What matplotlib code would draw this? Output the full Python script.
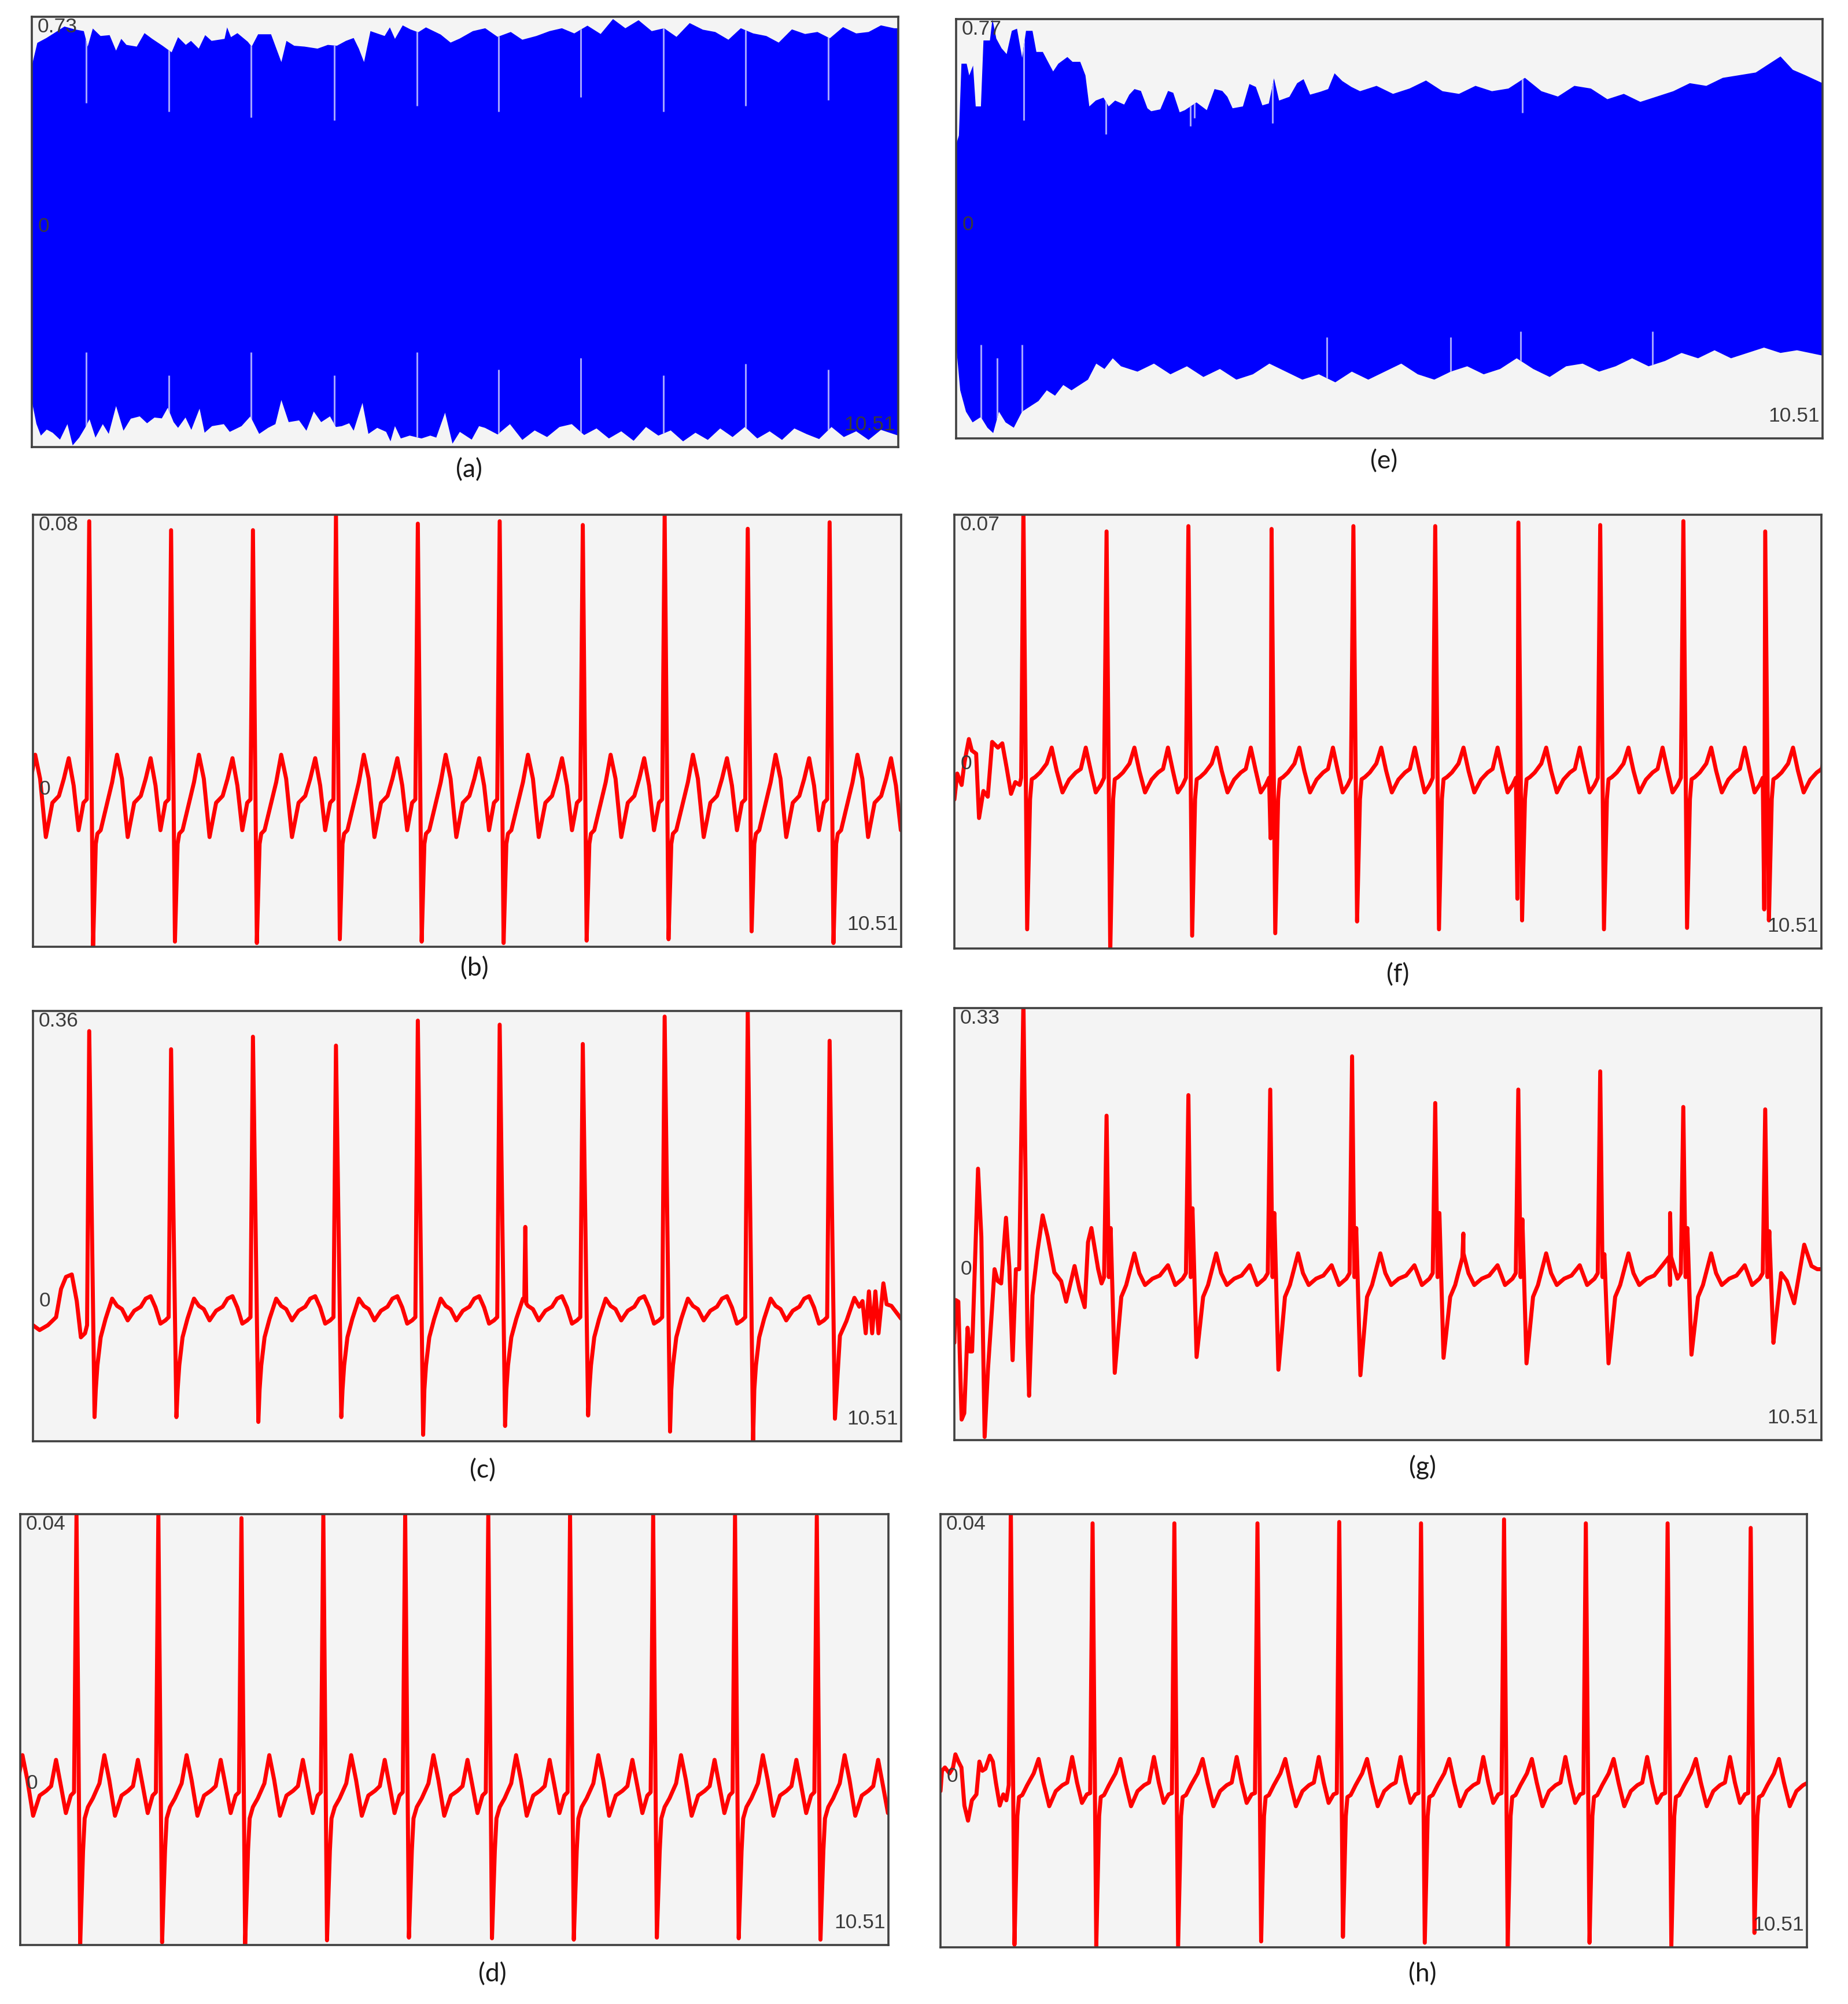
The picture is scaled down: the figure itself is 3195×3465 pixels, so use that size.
import numpy as np
import matplotlib
matplotlib.use("Agg")
import matplotlib.pyplot as plt
from matplotlib.transforms import blended_transform_factory

plt.rcParams['font.family'] = ['Liberation Sans', 'DejaVu Sans']

T_END = 10.51
W, H = 3195, 3465

# ---------------- (a) raw mixture: envelope of the blue band (t, value) ----------------
A_UP = [(0.0, 0.558), (0.067, 0.639), (0.177, 0.656), (0.271, 0.673), (0.396, 0.696), (0.521, 0.686),
        (0.631, 0.680), (0.678, 0.626), (0.740, 0.689), (0.834, 0.663), (0.944, 0.666), (1.022, 0.612),
        (1.085, 0.653), (1.148, 0.632), (1.273, 0.626), (1.367, 0.673), (1.461, 0.653), (1.586, 0.629),
        (1.696, 0.606), (1.774, 0.659), (1.868, 0.632), (1.931, 0.646), (2.025, 0.619), (2.103, 0.666),
        (2.181, 0.646), (2.338, 0.653), (2.369, 0.693), (2.416, 0.659), (2.494, 0.673), (2.620, 0.643),
        (2.667, 0.626), (2.745, 0.669), (2.902, 0.669), (3.027, 0.572), (3.089, 0.646), (3.183, 0.629),
        (3.309, 0.626), (3.466, 0.619), (3.591, 0.632), (3.701, 0.629), (3.810, 0.646), (3.904, 0.656),
        (3.967, 0.619), (4.030, 0.572), (4.108, 0.680), (4.280, 0.663), (4.343, 0.693), (4.405, 0.653),
        (4.499, 0.700), (4.593, 0.686), (4.687, 0.676), (4.781, 0.693), (4.96, 0.668), (5.08, 0.640),
        (5.19, 0.654), (5.35, 0.680), (5.50, 0.690), (5.65, 0.660), (5.81, 0.677), (5.95, 0.650),
        (6.12, 0.663), (6.28, 0.680), (6.43, 0.690), (6.58, 0.672), (6.74, 0.699), (6.90, 0.670),
        (7.05, 0.722), (7.20, 0.690), (7.36, 0.718), (7.52, 0.680), (7.67, 0.690), (7.82, 0.660),
        (7.98, 0.708), (8.14, 0.685), (8.29, 0.677), (8.45, 0.650), (8.60, 0.690), (8.75, 0.672),
        (8.91, 0.663), (9.06, 0.640), (9.22, 0.686), (9.38, 0.670), (9.53, 0.677), (9.68, 0.655),
        (9.84, 0.694), (10.0, 0.672), (10.15, 0.677), (10.30, 0.700), (10.46, 0.690), (10.51, 0.690)]
A_LO = [(0.0, -0.609), (0.056, -0.689), (0.110, -0.730), (0.181, -0.709), (0.253, -0.720), (0.342, -0.744),
        (0.432, -0.690), (0.496, -0.764), (0.575, -0.737), (0.646, -0.703), (0.700, -0.673), (0.772, -0.737),
        (0.861, -0.690), (0.933, -0.724), (1.022, -0.627), (1.112, -0.713), (1.201, -0.671), (1.309, -0.663),
        (1.398, -0.687), (1.488, -0.667), (1.577, -0.670), (1.649, -0.633), (1.720, -0.683), (1.774, -0.703),
        (1.864, -0.667), (1.935, -0.710), (2.035, -0.636), (2.096, -0.720), (2.186, -0.697), (2.329, -0.690),
        (2.401, -0.717), (2.544, -0.697), (2.651, -0.663), (2.758, -0.724), (2.866, -0.703), (2.955, -0.690),
        (3.027, -0.606), (3.116, -0.683), (3.242, -0.677), (3.331, -0.713), (3.420, -0.646), (3.510, -0.683),
        (3.617, -0.663), (3.689, -0.700), (3.760, -0.697), (3.850, -0.687), (3.904, -0.713), (4.011, -0.616),
        (4.083, -0.724), (4.190, -0.703), (4.298, -0.717), (4.351, -0.750), (4.405, -0.697), (4.476, -0.740),
        (4.584, -0.730), (4.727, -0.740), (4.834, -0.730), (4.906, -0.737), (5.013, -0.650), (5.103, -0.758),
        (5.192, -0.717), (5.336, -0.744), (5.425, -0.697), (5.497, -0.703), (5.65, -0.726), (5.80, -0.690),
        (5.95, -0.745), (6.10, -0.712), (6.25, -0.735), (6.40, -0.700), (6.55, -0.690), (6.70, -0.728),
        (6.85, -0.705), (7.00, -0.740), (7.15, -0.715), (7.30, -0.748), (7.45, -0.700), (7.60, -0.730),
        (7.75, -0.712), (7.90, -0.750), (8.05, -0.720), (8.20, -0.745), (8.35, -0.705), (8.50, -0.735),
        (8.65, -0.700), (8.80, -0.740), (8.95, -0.715), (9.10, -0.745), (9.25, -0.705), (9.40, -0.725),
        (9.55, -0.742), (9.70, -0.700), (9.85, -0.735), (10.0, -0.715), (10.15, -0.745), (10.30, -0.710),
        (10.51, -0.730)]
A_STREAK_T = [0.662, 1.665, 2.66, 3.67, 4.67, 5.66, 6.66, 7.66, 8.66, 9.66]
A_STREAK_TOP = [0.43, 0.40, 0.38, 0.37, 0.42, 0.40, 0.45, 0.40, 0.42, 0.44]
A_STREAK_BOT = [-0.44, -0.52, -0.44, -0.52, -0.44, -0.50, -0.46, -0.52, -0.48, -0.50]

# ---------------- (e) ----------------
E_UP = [(0.0, 0.30), (0.034, 0.334), (0.065, 0.603), (0.128, 0.603), (0.159, 0.559), (0.206, 0.596),
        (0.238, 0.443), (0.301, 0.443), (0.332, 0.690), (0.410, 0.690), (0.441, 0.770), (0.488, 0.697),
        (0.551, 0.661), (0.613, 0.639), (0.676, 0.726), (0.739, 0.734), (0.801, 0.625), (0.848, 0.726),
        (0.927, 0.726), (0.974, 0.647), (1.052, 0.647), (1.115, 0.610), (1.177, 0.574), (1.240, 0.603),
        (1.350, 0.628), (1.412, 0.610), (1.506, 0.610), (1.569, 0.559), (1.616, 0.443), (1.694, 0.465),
        (1.788, 0.476), (1.851, 0.443), (1.929, 0.465), (2.039, 0.450), (2.101, 0.487), (2.164, 0.508),
        (2.242, 0.501), (2.321, 0.436), (2.367, 0.425), (2.477, 0.432), (2.571, 0.501), (2.634, 0.494),
        (2.712, 0.421), (2.775, 0.429), (2.916, 0.458), (3.041, 0.429), (3.135, 0.508), (3.229, 0.501),
        (3.291, 0.479), (3.354, 0.436), (3.479, 0.443), (3.558, 0.527), (3.636, 0.516), (3.715, 0.447),
        (3.793, 0.454), (3.856, 0.548), (3.918, 0.465), (4.043, 0.479), (4.137, 0.530), (4.215, 0.545),
        (4.294, 0.487), (4.419, 0.498), (4.513, 0.508), (4.591, 0.567), (4.685, 0.538), (4.795, 0.516),
        (4.90, 0.50), (5.10, 0.52), (5.30, 0.49), (5.50, 0.51), (5.70, 0.54), (5.90, 0.50), (6.10, 0.49),
        (6.30, 0.52), (6.50, 0.50), (6.70, 0.51), (6.90, 0.55), (7.10, 0.50), (7.30, 0.48), (7.50, 0.52),
        (7.70, 0.51), (7.90, 0.47), (8.10, 0.49), (8.30, 0.46), (8.50, 0.48), (8.70, 0.50), (8.90, 0.53),
        (9.10, 0.52), (9.30, 0.55), (9.50, 0.56), (9.70, 0.57), (9.85, 0.60), (10.0, 0.63), (10.15, 0.58),
        (10.30, 0.56), (10.51, 0.53)]
E_LO = [(0.0, -0.45), (0.05, -0.62), (0.12, -0.70), (0.20, -0.74), (0.30, -0.72), (0.38, -0.76), (0.45, -0.78),
        (0.52, -0.70), (0.60, -0.74), (0.70, -0.76), (0.80, -0.70), (0.90, -0.68), (1.0, -0.66), (1.1, -0.62),
        (1.2, -0.64), (1.3, -0.60), (1.4, -0.62), (1.5, -0.60), (1.6, -0.58), (1.7, -0.52), (1.8, -0.54),
        (1.9, -0.50), (2.0, -0.53), (2.2, -0.55), (2.4, -0.52), (2.6, -0.56), (2.8, -0.53), (3.0, -0.57),
        (3.2, -0.54), (3.4, -0.58), (3.6, -0.56), (3.8, -0.52), (4.0, -0.55), (4.2, -0.58), (4.4, -0.56),
        (4.6, -0.59), (4.8, -0.55), (5.0, -0.58), (5.2, -0.55), (5.4, -0.52), (5.6, -0.56), (5.8, -0.58),
        (6.0, -0.55), (6.2, -0.53), (6.4, -0.56), (6.6, -0.54), (6.8, -0.50), (7.0, -0.54), (7.2, -0.57),
        (7.4, -0.53), (7.6, -0.52), (7.8, -0.55), (8.0, -0.53), (8.2, -0.50), (8.4, -0.53), (8.6, -0.51),
        (8.8, -0.48), (9.0, -0.50), (9.2, -0.47), (9.4, -0.50), (9.6, -0.48), (9.8, -0.46), (10.0, -0.48),
        (10.2, -0.47), (10.51, -0.49)]
E_STREAK_T = [0.819, 1.82, 2.84, 2.89, 3.84, 6.87]
E_STREAK_TOP = [0.39, 0.34, 0.37, 0.40, 0.38, 0.42]
E_STREAK_BT = [0.30, 0.50, 0.80, 4.50, 6.00, 6.85, 8.45]
E_STREAK_BOT = [-0.45, -0.50, -0.45, -0.42, -0.42, -0.40, -0.40]

# ---------------- red ECG panels: R times / R, S values + one beat shape per panel ----------------
ECG_PHASE = [0.08, 0.10, 0.14, 0.20, 0.28, 0.34, 0.40, 0.47, 0.55, 0.63, 0.69, 0.75, 0.81, 0.87, 0.93, 0.97]

B_R_T = [0.681, 1.672, 2.663, 3.668, 4.659, 5.650, 6.656, 7.647, 8.653, 9.644]
B_R_V = [0.0781, 0.0755, 0.0755, 0.080, 0.0774, 0.0781, 0.077, 0.080, 0.0759, 0.0778]
B_S_V = [-0.046, -0.0445, -0.0449, -0.0438, -0.0445, -0.0449, -0.0442, -0.0438, -0.0415, -0.0449]
B_WAVE = [-0.016, -0.013, -0.012, -0.006, 0.002, 0.010, 0.003, -0.014, -0.004, -0.002, 0.003, 0.009, 0.001,
          -0.012, -0.004, -0.003]

C_R_T = [0.681, 1.672, 2.663, 3.668, 4.659, 5.650, 6.656, 7.647, 8.653, 9.644]
C_R_V = [0.335, 0.3125, 0.328, 0.317, 0.348, 0.343, 0.319, 0.353, 0.36, 0.323]
C_S_V = [-0.144, -0.144, -0.150, -0.144, -0.166, -0.155, -0.142, -0.162, -0.174, -0.146]
C_WAVE = [-0.11, -0.08, -0.045, -0.022, 0.003, -0.006, -0.010, -0.024, -0.012, -0.007, 0.003, 0.006, -0.008,
          -0.028, -0.024, -0.020]
C_LEAD = [(0.0, -0.03), (0.08, -0.036), (0.18, -0.03), (0.28, -0.02), (0.34, 0.015), (0.40, 0.03), (0.47, 0.033),
          (0.53, 0.0), (0.58, -0.045), (0.63, -0.04), (0.655, -0.03)]
C_TAIL = [(9.769, -0.043), (9.847, -0.025), (9.944, 0.004), (10.003, -0.007), (10.042, 0.0), (10.081, -0.04),
          (10.12, 0.012), (10.159, -0.04), (10.198, 0.012), (10.236, -0.04), (10.295, 0.022), (10.334, -0.004),
          (10.392, -0.006), (10.51, -0.022)]
C_EXTRA = [(5.96, 0.092)]

D_R_T = [0.681, 1.672, 2.678, 3.669, 4.660, 5.666, 6.656, 7.662, 8.653, 9.643]
D_R_V = [0.040, 0.040, 0.0394, 0.040, 0.040, 0.040, 0.0398, 0.0398, 0.0398, 0.0397]
D_S_V = [-0.024, -0.0236, -0.024, -0.0233, -0.0229, -0.023, -0.0232, -0.0229, -0.023, -0.0232]
D_WAVE = [-0.010, -0.0052, -0.0035, -0.0022, 0.0, 0.0042, 0.0005, -0.0048, -0.0018, -0.0011, -0.0004, 0.0035,
          -0.0004, -0.0044, -0.0018, -0.0013]

F_R_T = [0.837, 1.845, 2.837, 3.845, 4.837, 5.829, 6.837, 7.829, 8.837, 9.829]
F_R_V = [0.072, 0.0653, 0.0668, 0.066, 0.0668, 0.0668, 0.0678, 0.0671, 0.0682, 0.0653]
F_S_V = [-0.0466, -0.053, -0.0484, -0.0477, -0.0444, -0.0466, -0.0441, -0.0466, -0.0462, -0.0441]
F_Q_V = [0, 0, 0, -0.021, 0, 0, -0.038, 0, 0, -0.041]
F_WAVE = [-0.010, -0.0044, -0.0038, -0.0025, 0.000, 0.0045, -0.002, -0.0081, -0.0045, -0.0025, -0.0015, 0.0045,
          -0.002, -0.0081, -0.0060, -0.004]
F_LEAD = [(0.0, -0.0101), (0.035, -0.0028), (0.088, -0.0060), (0.123, 0.0004), (0.176, 0.0069), (0.211, 0.0037),
          (0.264, 0.0028), (0.299, -0.0153), (0.352, -0.0077), (0.405, -0.0093), (0.458, 0.0061),
          (0.528, 0.0045), (0.581, 0.0057), (0.634, -0.0012), (0.687, -0.0085), (0.739, -0.0052),
          (0.792, -0.0060), (0.81, -0.004)]

# (g): first, irregular beat is part of the lead-in trace
G_PHASE = [0.18, 0.24, 0.34, 0.40, 0.47, 0.56, 0.65, 0.75, 0.84, 0.93, 0.97]
G_R_T = [1.845, 2.837, 3.829, 4.821, 5.829, 6.836, 7.829, 8.836, 9.829]
G_R_V = [0.194, 0.220, 0.227, 0.269, 0.210, 0.227, 0.250, 0.205, 0.202]
G_S_V = [-0.131, -0.111, -0.127, -0.134, -0.112, -0.119, -0.119, -0.108, -0.093]
G_NOTCH_V = [0.052, 0.077, 0.071, 0.052, 0.071, 0.063, 0.019, 0.052, 0.048]
G_WAVE = [-0.035, -0.02, 0.02, -0.005, -0.02, -0.012, -0.008, 0.005, -0.02, -0.012, -0.005]
G_LEAD = [(0.0, -0.093), (0.016, -0.039), (0.048, -0.041), (0.088, -0.19), (0.12, -0.182), (0.16, -0.074),
          (0.188, -0.104), (0.215, -0.104), (0.287, 0.127), (0.327, 0.041), (0.367, -0.212), (0.407, -0.127),
          (0.455, -0.052), (0.487, 0.0), (0.527, -0.015), (0.567, -0.018), (0.626, 0.065), (0.666, 0.003),
          (0.706, -0.115), (0.746, 0.0), (0.786, 0.0), (0.837, 0.34), (0.886, -0.086), (0.906, -0.16),
          (0.947, -0.033), (1.008, 0.023), (1.070, 0.068), (1.131, 0.041), (1.212, -0.004), (1.294, -0.015),
          (1.355, -0.041), (1.457, 0.004), (1.518, -0.026), (1.580, -0.048), (1.620, 0.034), (1.661, 0.052),
          (1.702, 0.026), (1.743, 0.0), (1.784, -0.018), (1.815, -0.01)]
G_TAIL = [(9.952, -0.07), (10.022, -0.005), (10.092, -0.015), (10.18, -0.043), (10.302, 0.031), (10.39, 0.004),
          (10.46, 0.0), (10.52, 0.0)]
G_EXTRA = [(6.17, 0.045), (8.676, 0.071)]

H_R_T = [0.853, 1.845, 2.837, 3.845, 4.837, 5.829, 6.836, 7.828, 8.820, 9.828]
H_R_V = [0.041, 0.0386, 0.0386, 0.0386, 0.0388, 0.0386, 0.0392, 0.0386, 0.0386, 0.0379]
H_S_V = [-0.0256, -0.0258, -0.0258, -0.0251, -0.0244, -0.0253, -0.0258, -0.0253, -0.0258, -0.0238]
H_WAVE = [-0.006, -0.0031, -0.0028, -0.0013, 0.0005, 0.0027, -0.0009, -0.0045, -0.0022, -0.0013, -0.0009,
          0.0030, -0.0009, -0.0040, -0.0027, -0.0025]
H_LEAD = [(0.0, -0.0022), (0.018, 0.0009), (0.054, 0.0014), (0.109, 0.0005), (0.152, 0.0014), (0.181, 0.0034),
          (0.218, 0.0023), (0.254, 0.0014), (0.290, -0.0044), (0.334, -0.0067), (0.381, -0.0036),
          (0.436, -0.0027), (0.472, 0.0023), (0.508, 0.0009), (0.545, 0.0012), (0.599, 0.0032),
          (0.635, 0.0023), (0.672, -0.0009), (0.719, -0.0044), (0.762, -0.0027), (0.799, -0.0036),
          (0.828, -0.0013)]

# panel boxes in pixels (x0, y0, x1, y1), y limits, label of the max
BOX = {'a': (55, 29, 1553, 773), 'e': (1653, 33, 3151, 758),
       'b': (57, 890, 1558, 1637), 'f': (1650, 890, 3149, 1640),
       'c': (57, 1748, 1558, 2492), 'g': (1650, 1743, 3149, 2490),
       'd': (35, 2618, 1536, 3363), 'h': (1626, 2618, 3124, 3367)}
YLIM = {'a': (-0.77, 0.73), 'e': (-0.80, 0.77), 'b': (-0.046, 0.08), 'f': (-0.052, 0.07),
        'c': (-0.174, 0.36), 'g': (-0.216, 0.33), 'd': (-0.024, 0.04), 'h': (-0.026, 0.04)}
TOP_LABEL = {'a': '0.73', 'e': '0.77', 'b': '0.08', 'f': '0.07', 'c': '0.36', 'g': '0.33', 'd': '0.04', 'h': '0.04'}
CAPTION_XY = {'a': (811, 813), 'e': (2393, 798), 'b': (820, 1675), 'f': (2417, 1686),
              'c': (835, 2543), 'g': (2459, 2537), 'd': (851, 3414), 'h': (2459, 3414)}


def xy(pairs):
    return np.array([p[0] for p in pairs]), np.array([p[1] for p in pairs])


def ecg_trace(r_t, r_v, s_v, s_ph, ph, wave, lead=None, tail=None, q_v=None, notch_v=None, extra=()):
    r_t = np.asarray(r_t, float)
    rr = np.diff(r_t)
    ts, vs = [], []
    if lead is None:
        r0 = r_t[0] - rr[0]
        ts += [r0 + p * rr[0] for p in ph]
        vs += list(wave)
    else:
        ts += [p[0] for p in lead]
        vs += [p[1] for p in lead]
    for i, r in enumerate(r_t):
        d = rr[i] if i < len(rr) else rr[-1]
        if q_v is not None and q_v[i] != 0:
            ts.append(r - 0.012)
            vs.append(q_v[i])
        ts.append(r)
        vs.append(r_v[i])
        if notch_v is not None:
            ts += [r + 0.028 * d, r + 0.05 * d]
            vs += [-0.01, notch_v[i]]
        ts.append(r + s_ph * d)
        vs.append(s_v[i])
        if i == len(r_t) - 1 and tail is not None:
            ts += [p[0] for p in tail]
            vs += [p[1] for p in tail]
        else:
            ts += [r + p * d for p in ph]
            vs += list(wave)
    ts, vs = np.array(ts), np.array(vs)
    for te, ve in extra:
        base = np.interp([te - 0.012, te + 0.012], ts, vs)
        ts = np.append(ts, [te - 0.012, te, te + 0.012])
        vs = np.append(vs, [base[0], ve, base[1]])
    o = np.argsort(ts, kind='stable')
    return ts[o], vs[o]


fig = plt.figure(figsize=(W / 100, H / 100), dpi=100)
fig.patch.set_facecolor('white')
TXT = dict(fontsize=25.5, color='#3a3a3a', zorder=6)

axes = {}
for k, (x0, y0, x1, y1) in BOX.items():
    ax = fig.add_axes([x0 / W, 1 - y1 / H, (x1 - x0) / W, (y1 - y0) / H])
    ax.set_xlim(0, T_END)
    ax.set_ylim(*YLIM[k])
    ax.set_facecolor('#f4f4f4')
    ax.set_xticks([])
    ax.set_yticks([])
    for s in ax.spines.values():
        s.set_color('#404040')
        s.set_linewidth(2.6)
        s.set_zorder(7)
    ax.annotate(TOP_LABEL[k], xy=(0, 1), xycoords='axes fraction', xytext=(7, -1),
                textcoords='offset points', ha='left', va='top', **TXT)
    tr = blended_transform_factory(ax.transAxes, ax.transData)
    ax.text(0.007, 0, '0', transform=tr, ha='left', va='center', **TXT)
    ax.annotate('10.51', xy=(1, 0), xycoords='axes fraction', xytext=(-3.5, 16),
                textcoords='offset points', ha='right', va='bottom', **TXT)
    cx, cy = CAPTION_XY[k]
    fig.text(cx / W, 1 - cy / H, '(%s)' % k, ha='center', va='center', fontsize=32,
             family=['Lato', 'DejaVu Sans'], color='#1a1a1a')
    axes[k] = ax


def blue_band(ax, up, lo, st_t, st_top, st_bt, st_bot, ylim):
    ux, uy = xy(up)
    lx, ly = xy(lo)
    poly = ax.fill(np.concatenate([ux, lx[::-1]]), np.concatenate([uy, ly[::-1]]),
                   color='#0000ff', lw=0, zorder=2)[0]
    top = ax.vlines(st_t, st_top, ylim[1], color='#a4a4ff', lw=2.2, zorder=3)
    top.set_clip_path(poly)
    bot = ax.vlines(st_bt, ylim[0], st_bot, color='#a4a4ff', lw=2.2, zorder=3)
    bot.set_clip_path(poly)


blue_band(axes['a'], A_UP, A_LO, A_STREAK_T, A_STREAK_TOP, A_STREAK_T, A_STREAK_BOT, YLIM['a'])
blue_band(axes['e'], E_UP, E_LO, E_STREAK_T, E_STREAK_TOP, E_STREAK_BT, E_STREAK_BOT, YLIM['e'])

traces = {
    'b': ecg_trace(B_R_T, B_R_V, B_S_V, 0.047, ECG_PHASE, B_WAVE),
    'c': ecg_trace(C_R_T, C_R_V, C_S_V, 0.065, ECG_PHASE, C_WAVE, lead=C_LEAD, tail=C_TAIL, extra=C_EXTRA),
    'd': ecg_trace(D_R_T, D_R_V, D_S_V, 0.045, ECG_PHASE, D_WAVE),
    'f': ecg_trace(F_R_T, F_R_V, F_S_V, 0.045, ECG_PHASE, F_WAVE, lead=F_LEAD, q_v=F_Q_V),
    'g': ecg_trace(G_R_T, G_R_V, G_S_V, 0.10, G_PHASE, G_WAVE, lead=G_LEAD, tail=G_TAIL,
                   notch_v=G_NOTCH_V, extra=G_EXTRA),
    'h': ecg_trace(H_R_T, H_R_V, H_S_V, 0.045, ECG_PHASE, H_WAVE, lead=H_LEAD),
}
for k, (t, v) in traces.items():
    axes[k].plot(t, v, color='#ff0000', lw=5.0, solid_joinstyle='round', solid_capstyle='round', zorder=3)

fig.savefig('out.png', dpi=100, facecolor='white')
